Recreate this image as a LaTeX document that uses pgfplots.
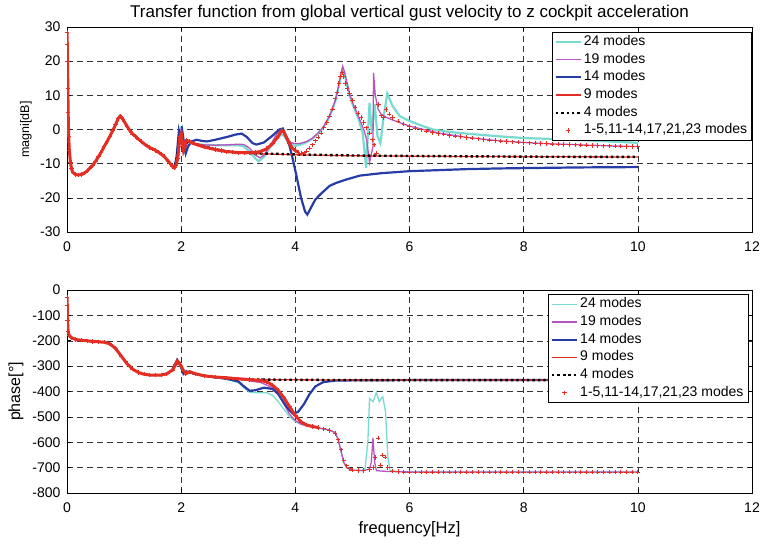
\documentclass[border=0pt]{standalone}
\usepackage{fontspec}
\setmainfont{Liberation Sans}
\usepackage{pgfplots}
\pgfplotsset{compat=1.18}
\usepackage{pgfplotstable}

\definecolor{cyanc}{RGB}{120,218,208}
\definecolor{magc}{RGB}{185,85,190}
\definecolor{bluec}{RGB}{40,60,165}
\definecolor{redc}{RGB}{228,45,35}

% ---------------- magnitude data ----------------
\pgfplotstableread{
x y
0.000 28.5
0.005 25
0.010 20
0.015 12
0.020 5
0.030 -2
0.040 -6
0.060 -9.5
0.080 -11.5
0.100 -12.5
0.150 -13.2
0.200 -13.3
0.250 -13.2
0.300 -12.8
0.350 -12.2
0.400 -11.3
0.450 -10.5
0.500 -9.3
0.550 -8.0
0.600 -6.6
0.650 -5.0
0.700 -3.6
0.750 -2.0
0.800 -0.4
0.850 1.4
0.900 3.3
0.930 3.9
0.960 3.5
1.000 2.4
1.050 1.0
1.100 -0.3
1.150 -1.3
1.200 -2.0
1.250 -2.8
1.300 -3.5
1.350 -4.2
1.400 -4.8
1.450 -5.3
1.500 -5.7
1.550 -6.1
1.600 -6.6
1.650 -7.2
1.700 -7.9
1.750 -8.8
1.800 -9.8
1.850 -10.8
1.880 -11.2
1.910 -10.5
1.940 -8.5
1.960 -5
1.980 -2
2.000 -1.2
2.020 -3.5
2.040 -6
2.060 -5
2.080 -3.5
2.100 -3.2
2.150 -3.5
2.200 -4.0
2.300 -4.6
2.400 -5.1
2.500 -5.5
2.600 -5.9
2.700 -6.2
2.800 -6.5
2.900 -6.6
3.000 -6.8
3.100 -6.8
3.200 -6.8
3.300 -6.7
3.400 -6.4
3.500 -5.6
3.600 -4.2
3.700 -2.0
3.760 -0.3
3.800 -0.8
3.850 -2.5
3.900 -4.2
3.950 -5.5
4.000 -6.2
4.050 -6.7
4.100 -6.9
4.150 -6.8
4.200 -6.3
4.250 -5.5
4.300 -4.5
4.350 -3.3
4.400 -2.2
4.450 -1.0
4.500 0.5
4.550 2.0
4.600 3.9
4.650 6.0
4.700 9.0
4.730 11.0
4.760 13.5
4.790 15.5
4.820 16.6
4.850 15.5
4.880 13.5
4.910 12.0
4.950 10.5
5.000 8.5
5.050 6.5
5.100 4.8
5.150 3.5
5.200 2.0
5.250 0.5
5.300 -1.0
5.350 -3.0
5.380 -4.5
5.420 -7.0
5.460 7.3
5.500 4.0
5.550 3.5
5.590 5.8
5.640 4.5
5.700 3.5
5.800 2.5
5.900 1.6
6.000 1.0
6.100 0.4
6.200 -0.1
6.300 -0.5
6.400 -0.9
6.500 -1.2
6.600 -1.4
6.700 -1.7
6.800 -1.9
6.900 -2.1
7.000 -2.3
7.100 -2.5
7.200 -2.7
7.300 -2.9
7.400 -3.05
7.500 -3.25
7.600 -3.4
7.700 -3.5
7.800 -3.6
7.900 -3.7
8.000 -3.8
8.100 -3.9
8.200 -4.0
8.300 -4.05
8.400 -4.15
8.500 -4.25
8.600 -4.3
8.700 -4.4
8.800 -4.45
8.900 -4.5
9.000 -4.55
9.100 -4.6
9.200 -4.65
9.300 -4.7
9.400 -4.75
9.500 -4.8
9.600 -4.85
9.700 -4.9
9.800 -4.95
9.900 -5.0
10.00 -5.0
}\magplus

\pgfplotstableread{
x y
1.85 -10.8
1.88 -11.2
1.92 -9
1.96 -3
1.99 -0.5
2.02 -3
2.05 -6.5
2.08 -5
2.12 -3.5
2.20 -4
2.30 -4.3
2.40 -4.5
2.60 -4.6
2.80 -4.6
3.00 -4.6
3.10 -5.0
3.20 -6.5
3.30 -8.5
3.36 -9.3
3.45 -8.0
3.55 -5.5
3.65 -3
3.75 -1.5
3.80 -1.8
3.87 -3.5
3.95 -4.6
4.00 -4.8
4.10 -4.4
4.20 -3.7
4.30 -2.7
4.40 -1.2
4.50 0.8
4.60 3.8
4.70 8.3
4.76 12.5
4.80 16
4.83 17.6
4.86 16.5
4.90 13.5
4.95 10
5.00 7.5
5.10 3.5
5.18 -1
5.24 -11.2
5.30 7.8
5.34 -1
5.39 7.5
5.44 -2
5.49 -4
5.55 4
5.61 10.5
5.70 7.0
5.83 3.9
6.00 2.5
6.20 1.2
6.41 0
6.70 -0.7
7.00 -1.2
7.57 -2.0
8.00 -2.5
8.74 -2.9
9.50 -3.5
10.00 -3.9
}\magA

\pgfplotstableread{
x y
1.85 -10.8
1.88 -11.2
1.92 -9
1.96 -3
1.99 -0.5
2.02 -3
2.05 -6.5
2.08 -5
2.12 -3.5
2.20 -4
2.30 -4.3
2.40 -4.5
2.60 -4.6
2.80 -4.5
3.00 -4.3
3.10 -4.4
3.20 -5.5
3.30 -7.5
3.38 -8.3
3.45 -7.5
3.55 -5
3.65 -2
3.72 -0.3
3.78 -0.5
3.85 -2.5
3.92 -3.8
4.00 -4.2
4.10 -4.0
4.20 -3.5
4.30 -2.5
4.40 -1.0
4.50 1.0
4.60 4.0
4.70 8.5
4.76 13
4.80 16.5
4.83 18.5
4.86 17
4.90 14
4.95 10.5
5.00 8
5.10 4
5.20 0
5.25 -3
5.30 -9.7
5.36 -5
5.37 16.6
5.40 10
5.45 6
5.50 4.5
5.60 3.5
5.70 2.8
5.80 2.2
6.00 1.0
6.50 -1.0
7.00 -2.3
7.50 -3.2
8.00 -3.8
8.50 -4.2
9.00 -4.5
9.50 -4.8
10.00 -5.0
}\magB

\pgfplotstableread{
x y
1.85 -10.8
1.88 -11.2
1.92 -8
1.96 -0.5
1.99 -3
2.02 -0.5
2.05 -4
2.08 -7
2.12 -5
2.18 -3.5
2.27 -3
2.35 -3.3
2.45 -3.5
2.60 -3.0
2.80 -2.2
2.95 -1.5
3.06 -1.2
3.15 -2.2
3.25 -4
3.32 -4.4
3.45 -3.8
3.60 -1.8
3.72 0
3.78 0.3
3.84 -2
3.90 -4.9
3.96 -9
4.02 -13.6
4.10 -20
4.17 -24
4.21 -24.9
4.27 -23
4.35 -20.5
4.45 -18.8
4.60 -16.5
4.72 -15.6
4.90 -14.6
5.13 -13.5
5.50 -12.8
6.00 -12.2
6.50 -11.9
7.00 -11.6
7.57 -11.4
8.00 -11.3
9.00 -11.1
10.00 -11.0
}\magC

\pgfplotstableread{
x y
1.85 -10.8
1.88 -11.2
1.92 -9
1.96 -4
1.99 -1.5
2.02 -3.5
2.05 -6
2.08 -4
2.12 -3.5
2.20 -4
2.40 -5
2.60 -5.8
2.80 -6.4
3.00 -6.8
3.30 -7.1
3.60 -7.2
4.00 -7.4
5.00 -7.7
6.00 -7.8
7.00 -7.9
8.00 -7.95
9.00 -8.0
10.00 -8.05
}\magD

\pgfplotstableread{
x y
1.85 -10.8
1.88 -11.2
1.92 -9
1.96 -4
1.99 -1.5
2.02 -3.5
2.05 -6
2.08 -4
2.12 -3.5
2.20 -4
2.40 -5
2.60 -5.8
2.80 -6.4
3.00 -6.8
3.30 -7.0
3.60 -7.1
4.00 -7.3
5.00 -7.6
6.00 -7.75
7.00 -7.85
8.00 -7.95
9.00 -8.0
10.00 -8.0
}\magE

% ---------------- phase data ----------------
\pgfplotstableread{
x y
0.000 -30
0.005 -60
0.010 -120
0.020 -165
0.040 -180
0.080 -188
0.150 -195
0.250 -198
0.350 -200
0.450 -203
0.550 -204
0.650 -206
0.750 -212
0.850 -230
0.950 -260
1.050 -290
1.150 -312
1.250 -325
1.350 -332
1.450 -335
1.550 -336
1.650 -335
1.750 -330
1.850 -315
1.900 -295
1.930 -280
1.960 -285
2.000 -300
2.040 -318
2.080 -330
2.150 -322
2.250 -330
2.400 -338
2.600 -343
2.800 -346
3.000 -350
3.200 -353
3.400 -357
3.500 -362
3.600 -375
3.700 -395
3.800 -425
3.900 -460
4.000 -495
4.100 -520
4.200 -532
4.300 -538
4.400 -542
4.500 -547
4.600 -553
4.700 -565
4.750 -590
4.800 -630
4.850 -670
4.900 -693
4.950 -705
5.000 -710
5.100 -712
5.200 -712
5.300 -708
5.360 -700
5.400 -660
5.450 -583
5.490 -690
5.530 -650
5.570 -658
5.620 -700
5.700 -713
5.800 -716
5.900 -717
6.000 -717
6.100 -717
6.200 -717
6.300 -717
6.400 -717
6.500 -717
6.600 -717
6.700 -717
6.800 -717
6.900 -717
7.000 -717
7.100 -717
7.200 -717
7.300 -717
7.400 -717
7.500 -717
7.600 -717
7.700 -717
7.800 -717
7.900 -717
8.000 -717
8.100 -717
8.200 -717
8.300 -717
8.400 -717
8.500 -717
8.600 -717
8.700 -717
8.800 -717
8.900 -717
9.000 -717
9.100 -717
9.200 -717
9.300 -717
9.400 -717
9.500 -717
9.600 -717
9.700 -717
9.800 -717
9.900 -717
10.00 -717
}\phplus

\pgfplotstableread{
x y
1.85 -315
1.93 -280
2.00 -300
2.05 -330
2.10 -325
2.20 -328
2.40 -338
2.60 -345
2.80 -352
3.00 -365
3.10 -385
3.20 -403
3.35 -405
3.50 -405
3.60 -415
3.70 -440
3.80 -470
3.90 -500
4.00 -518
4.10 -530
4.20 -536
4.40 -544
4.60 -553
4.70 -563
4.75 -590
4.80 -635
4.85 -680
4.90 -700
5.00 -710
5.15 -712
5.22 -705
5.27 -600
5.30 -428
5.36 -440
5.42 -403
5.47 -440
5.53 -420
5.58 -480
5.62 -655
5.66 -712
5.80 -716
6.00 -717
10.00 -717
}\phA

\pgfplotstableread{
x y
1.85 -315
1.93 -280
2.00 -300
2.05 -330
2.10 -325
2.20 -328
2.40 -338
2.60 -343
2.80 -346
3.00 -350
3.20 -358
3.40 -365
3.60 -385
3.70 -410
3.80 -450
3.90 -490
4.00 -515
4.10 -528
4.20 -535
4.40 -543
4.60 -552
4.70 -562
4.75 -590
4.80 -635
4.85 -680
4.90 -700
5.00 -710
5.20 -712
5.30 -705
5.33 -680
5.36 -583
5.39 -680
5.42 -712
5.60 -715
6.00 -717
10.00 -717
}\phB

\pgfplotstableread{
x y
1.85 -315
1.93 -275
2.00 -305
2.04 -330
2.08 -320
2.20 -328
2.40 -338
2.60 -344
2.80 -350
3.00 -360
3.10 -380
3.20 -397
3.30 -395
3.45 -385
3.60 -390
3.70 -410
3.80 -445
3.90 -475
3.96 -488
4.05 -480
4.15 -450
4.25 -410
4.35 -380
4.49 -363
4.70 -357
5.00 -356
6.00 -355
10.00 -355
}\phC

\pgfplotstableread{
x y
1.85 -315
1.93 -280
2.00 -300
2.05 -325
2.10 -322
2.20 -328
2.40 -338
2.60 -344
2.80 -348
3.00 -351
3.30 -353
4.00 -354
5.00 -355
10.00 -355
}\phD

\pgfplotstableread{
x y
1.85 -315
1.93 -280
2.00 -300
2.05 -325
2.10 -322
2.20 -328
2.40 -338
2.60 -344
2.80 -348
3.00 -351
3.30 -353
4.00 -354
5.00 -355
10.00 -355
}\phE

\pgfplotsset{
  myaxis/.style={
    scale only axis, width=685pt,
    xmin=0, xmax=12, xtick={0,2,4,6,8,10,12},
    grid=major,
    major grid style={black!80, line width=0.5pt, dash pattern=on 6pt off 4pt},
    tick align=inside, major tick length=4pt,
    axis line style={line width=0.8pt},
    every tick/.style={black, line width=0.6pt},
    /pgf/number format/assume math mode=true,
    tick label style={font=\fontsize{14}{14}\selectfont},
    xticklabel style={anchor=base, yshift=-19.7pt},
    yticklabel style={anchor=east, xshift=-3pt},
    legend cell align=left,
    legend image code/.code={\draw[mark repeat=2,mark phase=2,#1] plot coordinates {(0pt,0pt) (12.5pt,0pt) (25pt,0pt)};},
    legend style={at={(1,1)}, anchor=north east, draw=black, line width=0.8pt,
      fill=white, font=\fontsize{14}{14}\selectfont,
      inner xsep=2.5pt, inner ysep=1pt, row sep=0pt,
      nodes={text height=10.3pt, text depth=3.2pt, inner ysep=2.1pt, inner xsep=2pt}},
  },
  pl/.style={only marks, mark=+, mark size=2.2pt, redc, mark options={line width=0.8pt}},
}

\begin{document}
\begin{tikzpicture}
\useasboundingbox (0,0) rectangle (762pt,545pt);
% ---------- magnitude ----------
\begin{axis}[myaxis,
  at={(67pt,313pt)}, anchor=south west, height=205pt,
  ymin=-30, ymax=30, ytick={-30,-20,...,30},
  legend style={yshift=-4.7pt},
  every axis title shift=0pt,
  title={Transfer function from global vertical gust velocity to z cockpit acceleration},
  title style={at={(0.5,1)}, anchor=base, yshift=9.7pt, font=\fontsize{17}{17}\selectfont},
  every axis y label/.style={at={(rel axis cs:0,0.5)}, xshift=-41pt, rotate=90, anchor=center, font=\fontsize{12.5}{12.5}\selectfont},
  ylabel={magni[dB]},
]
\addplot[cyanc, line width=2.2pt] table {\magA}; \addlegendentry{24 modes}
\addplot[magc, line width=1.3pt] table {\magB}; \addlegendentry{19 modes}
\addplot[bluec, line width=2.2pt] table {\magC}; \addlegendentry{14 modes}
\addplot[redc, line width=1.3pt] table {\magD}; \addlegendentry{9 modes}
\addplot[black, line width=2.4pt, dash pattern=on 2.4pt off 3pt] table {\magE}; \addlegendentry{4 modes}
\addplot[redc, line width=3pt, forget plot, restrict x to domain=0:4.05] table {\magplus};
\addplot[pl] table {\magplus}; \addlegendentry{1-5,11-14,17,21,23 modes}
\end{axis}
% ---------- phase ----------
\begin{axis}[myaxis,
  at={(67pt,52pt)}, anchor=south west, height=203pt,
  ymin=-800, ymax=0, ytick={-800,-700,...,0},
  legend style={xshift=-3.7pt, yshift=-4pt},
  every axis y label/.style={at={(rel axis cs:0,0.5)}, xshift=-51pt, rotate=90, anchor=center, font=\fontsize{16}{16}\selectfont},
  ylabel={phase[°]},
  every axis x label/.style={at={(rel axis cs:0.5,0)}, anchor=base, yshift=-40.3pt, font=\fontsize{16.5}{16.5}\selectfont},
  xlabel={frequency[Hz]},
]
\addplot[cyanc, line width=1.3pt] table {\phA}; \addlegendentry{24 modes}
\addplot[magc, line width=1.3pt] table {\phB}; \addlegendentry{19 modes}
\addplot[bluec, line width=2.2pt] table {\phC}; \addlegendentry{14 modes}
\addplot[redc, line width=1.3pt] table {\phD}; \addlegendentry{9 modes}
\addplot[black, line width=2.4pt, dash pattern=on 2.4pt off 3pt] table {\phE}; \addlegendentry{4 modes}
\addplot[redc, line width=3pt, forget plot, restrict x to domain=0:4.4] table {\phplus};
\addplot[pl] table {\phplus}; \addlegendentry{1-5,11-14,17,21,23 modes}
\end{axis}
\end{tikzpicture}
\end{document}
